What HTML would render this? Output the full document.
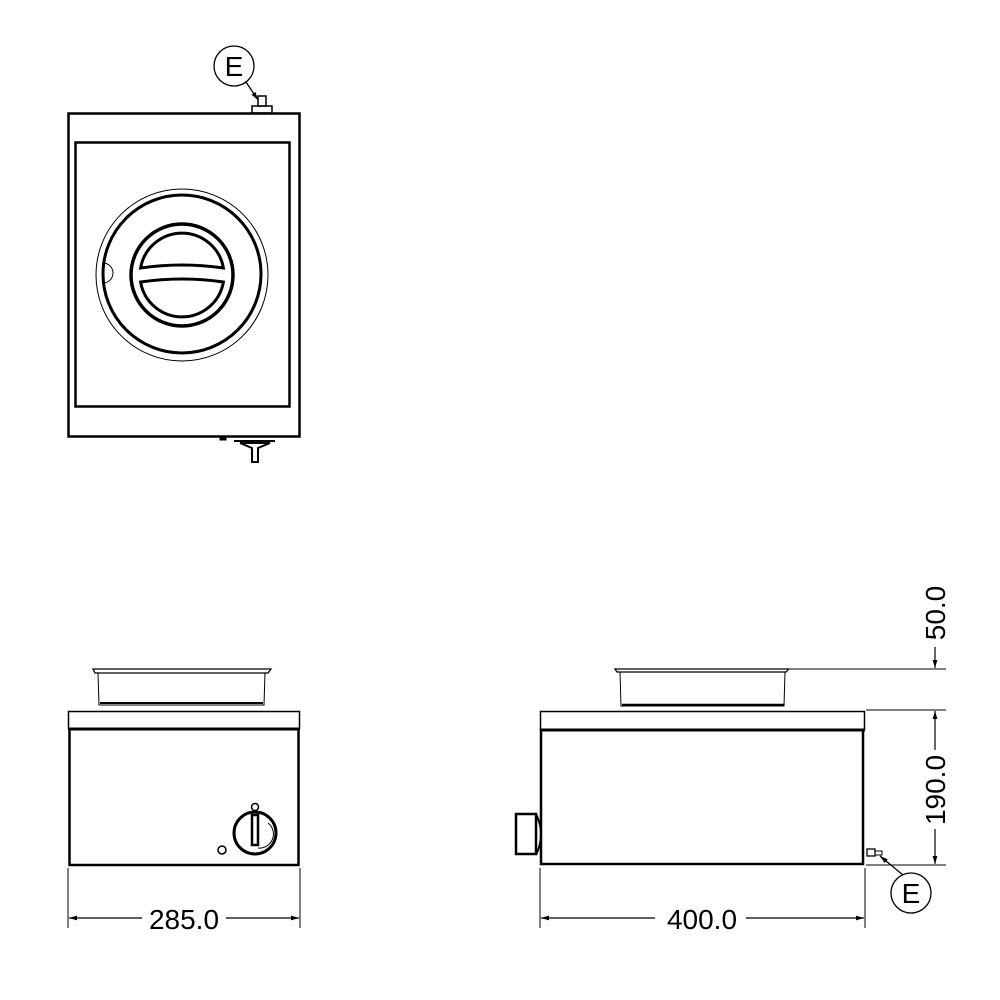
<!DOCTYPE html>
<html><head><style>html,body{margin:0;background:#fff}svg{display:block}</style></head>
<body>
<svg width="1000" height="1000" viewBox="0 0 1000 1000" xmlns="http://www.w3.org/2000/svg" font-family="Liberation Sans, sans-serif">
<defs><marker id="a" viewBox="0 0 10 10" refX="10" refY="5" markerWidth="14" markerHeight="8" orient="auto-start-reverse" markerUnits="userSpaceOnUse"><path d="M0,2 L10,5 L0,8z" fill="#000"/></marker></defs>
<g fill="none" stroke="#000">
<!-- top view -->
<rect x="68.5" y="113.5" width="231" height="323" stroke-width="2.5"/>
<rect x="75.5" y="142.5" width="214" height="264" stroke-width="2.5"/>
<circle cx="182" cy="275" r="86" stroke-width="1"/>
<circle cx="182" cy="274" r="79" stroke-width="3"/>
<circle cx="182" cy="275" r="51" stroke-width="3.5"/>
<path d="M140.6,268 A42,42 0 0 1 223.4,268 Q182,262 140.6,268 Z" stroke-width="3"/>
<path d="M140.6,282 A42,42 0 0 0 223.4,282 Q182,276 140.6,282 Z" stroke-width="3"/>
<path d="M103,263 A9,9 0 0 1 103,283" stroke-width="1"/>
<rect x="252" y="106" width="20" height="7" stroke-width="1.5"/>
<rect x="258" y="96" width="8" height="10" stroke-width="1.5"/>
<path d="M234,441 H275 M240,443 H270 L258,448 V462 H252 V448 L240,443" stroke-width="2"/>
<rect x="220" y="437" width="6" height="3" fill="#000"/>
<circle cx="234" cy="66" r="20" stroke-width="1.3"/>
<line x1="246" y1="82" x2="258" y2="100" stroke-width="1.3" marker-end="url(#a)"/>
<!-- front view -->
<path d="M95,673 L93,669 H271 L268,673 Z" stroke-width="1.3"/>
<path d="M98,673 L99,705 H264 L265,673" stroke-width="1"/>
<line x1="100" y1="703" x2="263" y2="703" stroke-width="2"/>
<rect x="68.5" y="711.5" width="231" height="17" stroke-width="1.5"/>
<line x1="68" y1="729" x2="300" y2="729" stroke-width="3"/>
<rect x="69.5" y="729" width="229" height="136" stroke-width="2.5"/>
<circle cx="255" cy="833" r="21" stroke-width="3"/>
<rect x="252" y="815" width="6" height="30" stroke-width="2.5"/>
<path d="M268,823 A14,14 0 0 1 258,848" stroke-width="1"/>
<circle cx="255" cy="807" r="3.5" stroke-width="1.5"/>
<circle cx="222" cy="850" r="4" stroke-width="1.5"/>
<line x1="68" y1="868" x2="68" y2="928" stroke-width="1"/>
<line x1="300" y1="868" x2="300" y2="928" stroke-width="1"/>
<line x1="69" y1="918" x2="142" y2="918" stroke-width="1.2" marker-start="url(#a)"/>
<line x1="226" y1="918" x2="299" y2="918" stroke-width="1.2" marker-end="url(#a)"/>
<!-- side view -->
<path d="M617,672 L615,669 H789 L786,672 Z" stroke-width="1.3"/>
<path d="M620,672 L621,706 H784 L785,672" stroke-width="1"/>
<line x1="622" y1="705" x2="784" y2="705" stroke-width="2.5"/>
<rect x="540.5" y="711.5" width="324" height="18" stroke-width="1.5"/>
<line x1="540" y1="730" x2="865" y2="730" stroke-width="3"/>
<rect x="541" y="730" width="322" height="134" stroke-width="2.5"/>
<rect x="516" y="814" width="20" height="40" stroke-width="2.5"/>
<path d="M536,814 Q546,834 536,855" stroke-width="2"/>
<rect x="867" y="849" width="8" height="7" stroke-width="1.3"/>
<rect x="875" y="851" width="7" height="4" stroke-width="1"/>
<circle cx="911" cy="893" r="20" stroke-width="1.3"/>
<line x1="903" y1="875" x2="880" y2="856" stroke-width="1.3" marker-end="url(#a)"/>
<line x1="540" y1="868" x2="540" y2="928" stroke-width="1"/>
<line x1="865" y1="868" x2="865" y2="928" stroke-width="1"/>
<line x1="541" y1="918" x2="655" y2="918" stroke-width="1.2" marker-start="url(#a)"/>
<line x1="746" y1="918" x2="864" y2="918" stroke-width="1.2" marker-end="url(#a)"/>
<line x1="790" y1="669" x2="946" y2="669" stroke-width="1"/>
<line x1="866" y1="710" x2="946" y2="710" stroke-width="1"/>
<line x1="866" y1="865" x2="946" y2="865" stroke-width="1"/>
<line x1="935" y1="647" x2="935" y2="668" stroke-width="1.2" marker-end="url(#a)"/>
<line x1="935" y1="750" x2="935" y2="711" stroke-width="1.2" marker-end="url(#a)"/>
<line x1="935" y1="829" x2="935" y2="864" stroke-width="1.2" marker-end="url(#a)"/>
</g>
<g font-size="28" fill="#000" text-anchor="middle">
<text x="234" y="76">E</text>
<text x="911" y="903">E</text>
<text x="184" y="929">285.0</text>
<text x="702" y="929">400.0</text>
<text transform="translate(945,613) rotate(-90)">50.0</text>
<text transform="translate(945,790) rotate(-90)">190.0</text>
</g>
</svg>
</body></html>
